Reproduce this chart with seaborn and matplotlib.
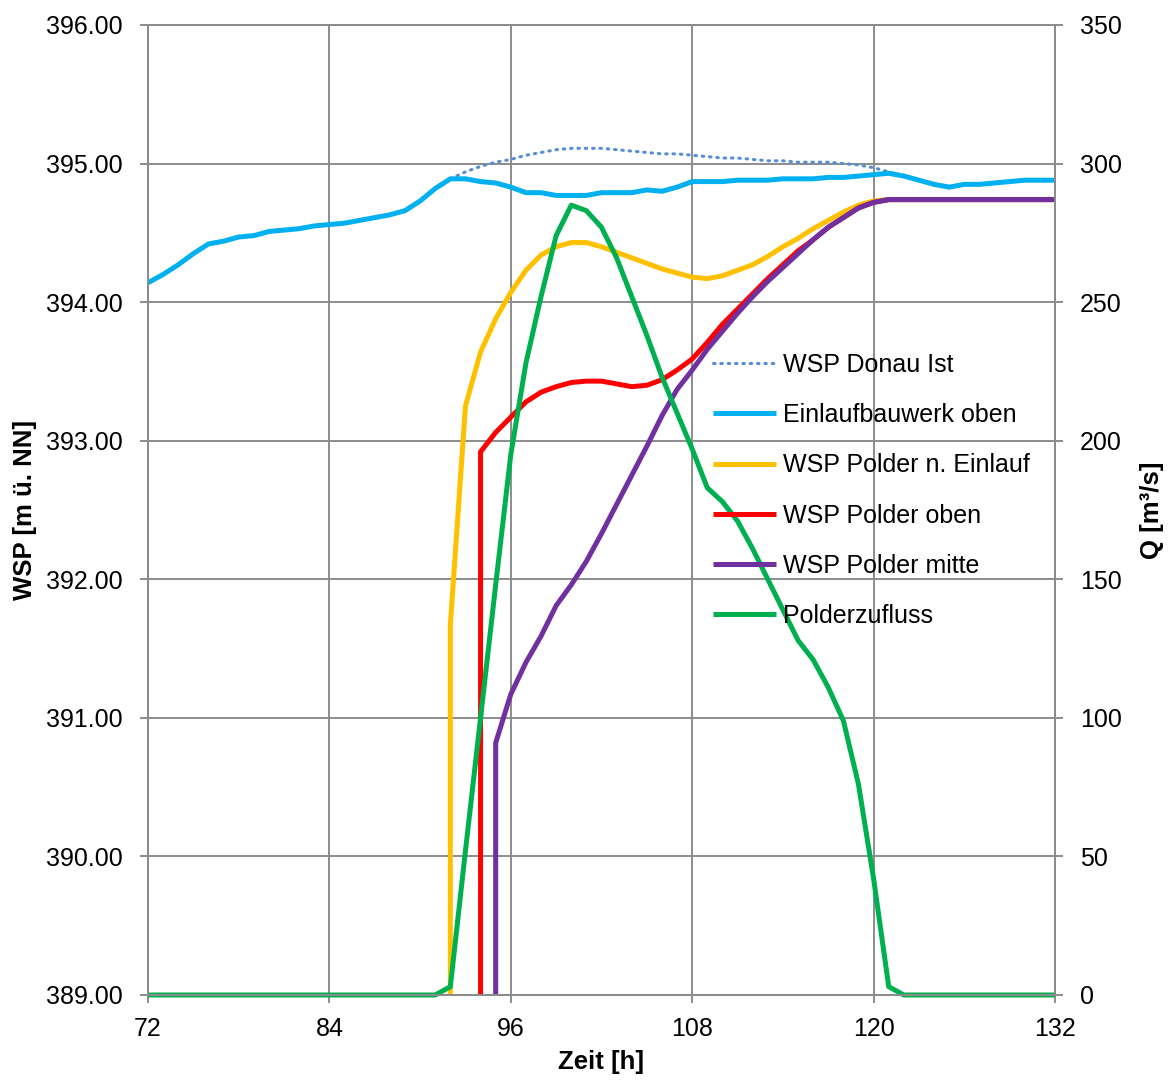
import matplotlib
matplotlib.use("Agg")
import matplotlib.pyplot as plt
import seaborn as sns
import pandas as pd
from matplotlib.ticker import FormatStrFormatter, MultipleLocator

# ---------------- data ----------------
hours = list(range(72, 133))

einlauf_oben = [394.14, 394.20, 394.27, 394.35, 394.42, 394.44, 394.47, 394.48, 394.51, 394.52,
                394.53, 394.55, 394.56, 394.57, 394.59, 394.61, 394.63, 394.66, 394.73, 394.82,
                394.89, 394.89, 394.87, 394.86, 394.83, 394.79, 394.79, 394.77, 394.77, 394.77,
                394.79, 394.79, 394.79, 394.81, 394.80, 394.83, 394.87, 394.87, 394.87, 394.88,
                394.88, 394.88, 394.89, 394.89, 394.89, 394.90, 394.90, 394.91, 394.92, 394.93,
                394.91, 394.88, 394.85, 394.83, 394.85, 394.85, 394.86, 394.87, 394.88, 394.88, 394.88]

donau_hours = list(range(92, 123))
donau_ist = [394.89, 394.94, 394.98, 395.01, 395.03, 395.06, 395.08, 395.10, 395.11, 395.11,
             395.11, 395.10, 395.09, 395.08, 395.07, 395.07, 395.06, 395.05, 395.04, 395.04,
             395.03, 395.02, 395.02, 395.01, 395.01, 395.01, 395.00, 394.99, 394.97, 394.94, 394.91]

einlauf_hours = [92] + list(range(92, 133))
polder_einlauf = [389.00, 391.67, 393.25, 393.64, 393.88, 394.07, 394.23, 394.34, 394.40, 394.43,
                  394.43, 394.40, 394.36, 394.32, 394.28, 394.24, 394.21, 394.18, 394.17, 394.19,
                  394.23, 394.27, 394.33, 394.40, 394.46, 394.53, 394.59, 394.65, 394.70, 394.73,
                  394.74, 394.74, 394.74, 394.74, 394.74, 394.74, 394.74, 394.74, 394.74, 394.74,
                  394.74, 394.74]

oben_hours = [94] + list(range(94, 133))
polder_oben = [389.00, 392.92, 393.06, 393.17, 393.28, 393.35, 393.39, 393.42, 393.43, 393.43,
               393.41, 393.39, 393.40, 393.44, 393.51, 393.59, 393.71, 393.84, 393.95, 394.06,
               394.17, 394.27, 394.37, 394.45, 394.54, 394.61, 394.68, 394.72,
               394.74, 394.74, 394.74, 394.74, 394.74, 394.74, 394.74, 394.74, 394.74, 394.74,
               394.74, 394.74]

mitte_hours = [95] + list(range(95, 133))
polder_mitte = [389.00, 390.82, 391.17, 391.40, 391.59, 391.81, 391.96, 392.13, 392.33, 392.54,
                392.75, 392.96, 393.18, 393.37, 393.51, 393.66, 393.79, 393.92, 394.04, 394.15,
                394.25, 394.35, 394.45, 394.54, 394.61, 394.68, 394.72,
                394.74, 394.74, 394.74, 394.74, 394.74, 394.74, 394.74, 394.74, 394.74, 394.74,
                394.74, 394.74]

polderzufluss = [0, 0, 0, 0, 0, 0, 0, 0, 0, 0,
                 0, 0, 0, 0, 0, 0, 0, 0, 0, 0,
                 3, 52, 100, 148, 195, 228, 252, 274, 285, 283,
                 277, 266, 252, 238, 223, 210, 197, 183, 178, 171,
                 161, 150, 139, 128, 121, 111, 99, 76, 42, 3,
                 0, 0, 0, 0, 0, 0, 0, 0, 0, 0, 0]

labels = ["WSP Donau Ist", "Einlaufbauwerk oben", "WSP Polder n. Einlauf",
          "WSP Polder oben", "WSP Polder mitte", "Polderzufluss"]
colors = ["#558ed5", "#00b0f0", "#ffc000", "#ff0000", "#7030a0", "#00b050"]

x_ticks = list(range(72, 133, 12))

# ---------------- style ----------------
sns.set_style("white")
plt.rcParams["font.family"] = ["Liberation Sans", "DejaVu Sans"]
plt.rcParams["text.color"] = "black"
plt.rcParams["axes.labelcolor"] = "black"

fig = plt.figure(figsize=(11.68, 10.80), dpi=100)
ax = fig.add_axes([148 / 1168, 1 - 995 / 1080, 907 / 1168, 970 / 1080])
ax2 = ax.twinx()

grid_c = "#8c8c8c"
lw = 3.6
common = dict(estimator=None, sort=False, clip_on=False,
              solid_joinstyle="round", solid_capstyle="butt")

sns.lineplot(x=donau_hours, y=donau_ist, ax=ax, color=colors[0], linewidth=2.2,
             linestyle=(0, (0.5, 1.9)), dash_capstyle="round", label=labels[0],
             estimator=None, sort=False, clip_on=False)
sns.lineplot(x=hours, y=einlauf_oben, ax=ax, color=colors[1], linewidth=lw, label=labels[1], **common)
sns.lineplot(x=einlauf_hours, y=polder_einlauf, ax=ax, color=colors[2], linewidth=lw, label=labels[2], **common)
sns.lineplot(x=oben_hours, y=polder_oben, ax=ax, color=colors[3], linewidth=lw, label=labels[3], **common)
sns.lineplot(x=mitte_hours, y=polder_mitte, ax=ax, color=colors[4], linewidth=lw, label=labels[4], **common)
sns.lineplot(x=hours, y=polderzufluss, ax=ax2, color=colors[5], linewidth=lw, label=labels[5], **common)

# axes ranges & ticks
ax.set_xlim(72, 132)
ax.set_ylim(389, 396)
ax2.set_ylim(0, 350)
ax.set_xticks(x_ticks)
ax.yaxis.set_major_locator(MultipleLocator(1))
ax.yaxis.set_major_formatter(FormatStrFormatter("%.2f"))
ax2.yaxis.set_major_locator(MultipleLocator(50))

ax.grid(True, color=grid_c, linewidth=1.4)
ax2.grid(False)
ax.set_axisbelow(True)

for a in (ax, ax2):
    for s in a.spines.values():
        s.set_color(grid_c)
        s.set_linewidth(1.4)
        s.set_visible(True)

ax.tick_params(axis="both", which="major", direction="out", length=6, width=1.4,
               color=grid_c, labelsize=18, labelcolor="black", pad=10, left=True, bottom=True)
ax.tick_params(axis="y", pad=12)
ax2.tick_params(axis="y", direction="out", length=6, width=1.4, color=grid_c,
                labelsize=18, labelcolor="black", pad=12, right=True)

ax.set_xlabel("Zeit [h]", fontsize=18.5, fontweight="bold", labelpad=6, color="black")
ax.set_ylabel("WSP [m ü. NN]", fontsize=18.5, fontweight="bold", labelpad=7, color="black")
ax2.set_ylabel("Q [m³/s]", fontsize=18.5, fontweight="bold", labelpad=13, color="black")

# legend combining both axes
h1, l1 = ax.get_legend_handles_labels()
h2, l2 = ax2.get_legend_handles_labels()
if ax.get_legend() is not None:
    ax.get_legend().remove()
leg = ax2.legend(h1 + h2, l1 + l2, loc="upper left", bbox_to_anchor=(0.623, 0.662),
                 frameon=False, fontsize=18, handlelength=2.5, handletextpad=0.3,
                 labelspacing=1.05, borderpad=0, borderaxespad=0)
for t in leg.get_texts():
    t.set_color("black")

fig.savefig("out.png", dpi=100)
